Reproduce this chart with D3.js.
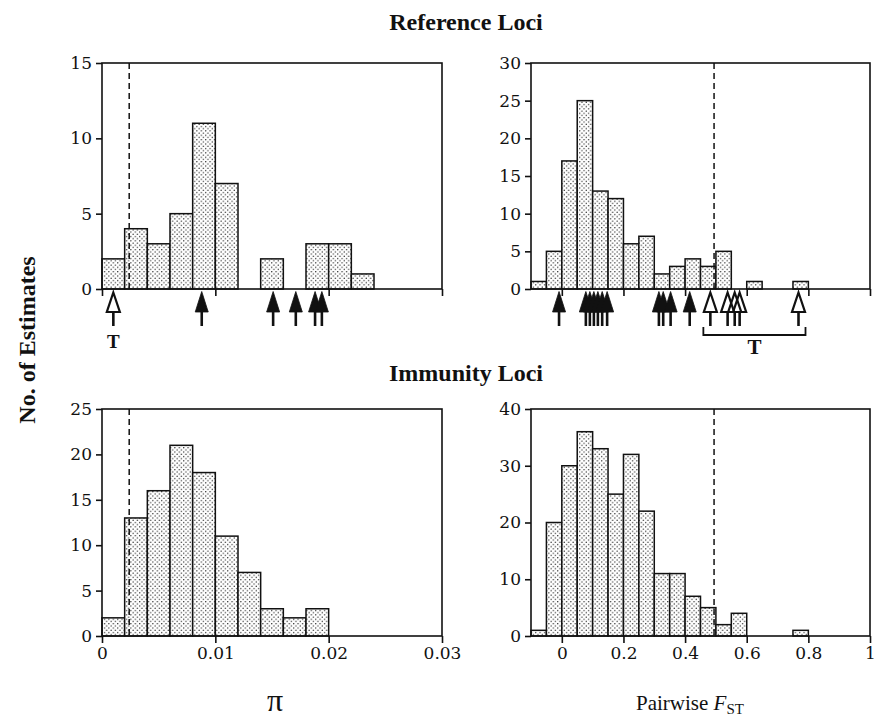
<!DOCTYPE html>
<html>
<head>
<meta charset="utf-8">
<script src="https://cdn.jsdelivr.net/npm/d3@7"></script>
<style>
  body { margin: 0; background: #fff; }
  svg text { fill: #111; }
</style>
</head>
<body>
<svg id="chart" width="875" height="721"></svg>
<script>
// histogram bin counts (pi: bins of 0.002 from 0, Fst: bins of 0.05 from -0.1)
const piRefCounts = [2, 4, 3, 5, 11, 7, 0, 2, 0, 3, 3, 1];
const piImmCounts = [2, 13, 16, 21, 18, 11, 7, 3, 2, 3];
const fstRefCounts = [1, 5, 17, 25, 13, 12, 6, 7, 2, 3, 4, 3, 5, 0, 1, 0, 0, 1];
const fstImmCounts = [1, 20, 30, 36, 33, 25, 32, 22, 11, 11, 7, 5, 2, 4, 0, 0, 0, 1];

// arrows under the reference panels
const piArrows = [0.0088, 0.0151, 0.0171, 0.0188, 0.0194];
const piTArrows = [0.001];
const fstArrows = [-0.009, 0.078, 0.091, 0.104, 0.117, 0.131, 0.147, 0.315, 0.329, 0.353, 0.415];
const fstTArrows = [0.482, 0.538, 0.561, 0.577, 0.768];

// dashed threshold lines
const piCut = 0.0024;
const fstCut = 0.494;

const piTicks = [0, 0.01, 0.02, 0.03];
const piTickLabels = ["0", "0.01", "0.02", "0.03"];
const fstTicks = [0, 0.2, 0.4, 0.6, 0.8, 1];
const fstTickLabels = ["0", "0.2", "0.4", "0.6", "0.8", "1"];

const tickFont = "DejaVu Serif, serif";
const textFont = "Liberation Serif, Times New Roman, serif";

const svg = d3.select("#chart");

// stipple pattern
const pat = svg.append("defs").append("pattern")
    .attr("id", "dots")
    .attr("patternUnits", "userSpaceOnUse")
    .attr("width", 4.4).attr("height", 4.4);
pat.append("rect").attr("width", 4.4).attr("height", 4.4).attr("fill", "#fff");
pat.append("circle").attr("cx", 1.1).attr("cy", 1.1).attr("r", 0.7).attr("fill", "#222");
pat.append("circle").attr("cx", 3.3).attr("cy", 3.3).attr("r", 0.7).attr("fill", "#222");

function panel(opts) {
    const x = d3.scaleLinear().domain(opts.xDomain).range([opts.left, opts.right]);
    const y = d3.scaleLinear().domain([0, opts.yMax]).range([opts.bottom, opts.top]);
    const g = svg.append("g");

    const bins = opts.counts.map((c, i) => ({
        x0: opts.start + i * opts.step,
        x1: opts.start + (i + 1) * opts.step,
        n: c
    })).filter(d => d.n > 0);

    g.selectAll("rect.bar")
        .data(bins)
        .enter()
        .append("rect")
        .attr("class", "bar")
        .attr("x", d => x(d.x0))
        .attr("width", d => x(d.x1) - x(d.x0))
        .attr("y", d => y(d.n))
        .attr("height", d => y(0) - y(d.n))
        .attr("fill", "url(#dots)")
        .attr("stroke", "#111")
        .attr("stroke-width", 1.5);

    // dashed line
    g.append("line")
        .attr("x1", x(opts.cut)).attr("x2", x(opts.cut))
        .attr("y1", y(opts.yMax)).attr("y2", y(0))
        .attr("stroke", "#111")
        .attr("stroke-width", 1.5)
        .attr("stroke-dasharray", "6,4");

    // frame
    g.append("rect")
        .attr("x", opts.left).attr("y", opts.top)
        .attr("width", opts.right - opts.left)
        .attr("height", opts.bottom - opts.top)
        .attr("fill", "none")
        .attr("stroke", "#111")
        .attr("stroke-width", 1.6);

    // y axis
    const yAxis = d3.axisLeft(y).tickValues(d3.range(0, opts.yMax + 1, opts.yStep))
        .tickSize(6).tickPadding(4).tickFormat(d3.format("d"));
    g.append("g")
        .attr("transform", `translate(${opts.left},0)`)
        .call(yAxis)
        .call(a => a.select(".domain").remove())
        .call(a => a.selectAll("line").attr("stroke", "#111").attr("stroke-width", 1.6))
        .call(a => a.selectAll("text").style("font-size", "17px")
            .style("font-family", tickFont).style("fill", "#111"));

    // x axis
    const xAxis = d3.axisBottom(x).tickValues(opts.ticks).tickSize(7).tickPadding(4)
        .tickFormat((d, i) => opts.showLabels ? opts.tickLabels[i] : "");
    g.append("g")
        .attr("transform", `translate(0,${opts.bottom})`)
        .call(xAxis)
        .call(a => a.select(".domain").remove())
        .call(a => a.selectAll("line").attr("stroke", "#111").attr("stroke-width", 1.6))
        .call(a => a.selectAll("text").style("font-size", "17px")
            .style("font-family", tickFont).style("fill", "#111"));

    return { x, y };
}

function arrows(x, vals, base, open) {
    const tip = base + 2.5, neck = base + 23, tail = base + 37;
    const g = svg.append("g");
    g.selectAll("line")
        .data(vals)
        .enter()
        .append("line")
        .attr("x1", d => x(d)).attr("x2", d => x(d))
        .attr("y1", neck - 1).attr("y2", tail)
        .attr("stroke", "#111")
        .attr("stroke-width", 2.6);
    g.selectAll("path")
        .data(vals)
        .enter()
        .append("path")
        .attr("d", d => `M${x(d)},${tip + (open ? 1 : 0)} L${x(d) + 6.5},${neck} L${x(d) - 6.5},${neck} Z`)
        .attr("fill", open ? "none" : "#111")
        .attr("stroke", "#111")
        .attr("stroke-width", open ? 2.2 : 0.8)
        .attr("stroke-linejoin", "miter");
}

const L = { left: 102, right: 442 };
const R = { left: 531, right: 870 };
const TOP = { top: 63, bottom: 289 };
const BOT = { top: 409, bottom: 636 };

const p1 = panel({ ...L, ...TOP, xDomain: [0, 0.03], yMax: 15, yStep: 5, start: 0, step: 0.002,
    counts: piRefCounts, cut: piCut, ticks: piTicks, tickLabels: piTickLabels, showLabels: false });
const p2 = panel({ ...R, ...TOP, xDomain: [-0.1, 1], yMax: 30, yStep: 5, start: -0.1, step: 0.05,
    counts: fstRefCounts, cut: fstCut, ticks: fstTicks, tickLabels: fstTickLabels, showLabels: false });
const p3 = panel({ ...L, ...BOT, xDomain: [0, 0.03], yMax: 25, yStep: 5, start: 0, step: 0.002,
    counts: piImmCounts, cut: piCut, ticks: piTicks, tickLabels: piTickLabels, showLabels: true });
const p4 = panel({ ...R, ...BOT, xDomain: [-0.1, 1], yMax: 40, yStep: 10, start: -0.1, step: 0.05,
    counts: fstImmCounts, cut: fstCut, ticks: fstTicks, tickLabels: fstTickLabels, showLabels: true });

arrows(p1.x, piArrows, TOP.bottom, false);
arrows(p1.x, piTArrows, TOP.bottom, true);
arrows(p2.x, fstArrows, TOP.bottom, false);
arrows(p2.x, fstTArrows, TOP.bottom, true);

function label(x, y, txt, size, bold) {
    return svg.append("text")
        .attr("x", x).attr("y", y)
        .attr("text-anchor", "middle")
        .style("font-family", textFont)
        .style("font-weight", bold ? "bold" : "normal")
        .style("font-size", size + "px")
        .text(txt);
}

// T labels
label(p1.x(piTArrows[0]), 348, "T", 19, true);

const bx0 = p2.x(fstTArrows[0]) - 7, bx1 = p2.x(fstTArrows[fstTArrows.length - 1]) + 7;
svg.append("path")
    .attr("d", `M${bx0},327 V335 H${bx1} V327`)
    .attr("fill", "none").attr("stroke", "#111").attr("stroke-width", 1.8);
label((bx0 + bx1) / 2, 354, "T", 21, true);

// titles
label(466, 30, "Reference Loci", 24, true);
label(466, 381, "Immunity Loci", 24, true);

label(0, 0, "No. of Estimates", 24, true)
    .attr("transform", "translate(35,340) rotate(-90)");

// x axis titles
label(275, 711, "π", 32, false);

const xt = label(690, 710, "", 21, false);
xt.append("tspan").text("Pairwise ");
xt.append("tspan").style("font-style", "italic").text("F");
xt.append("tspan").style("font-size", "15px").attr("dy", 4).text("ST");
</script>
</body>
</html>
